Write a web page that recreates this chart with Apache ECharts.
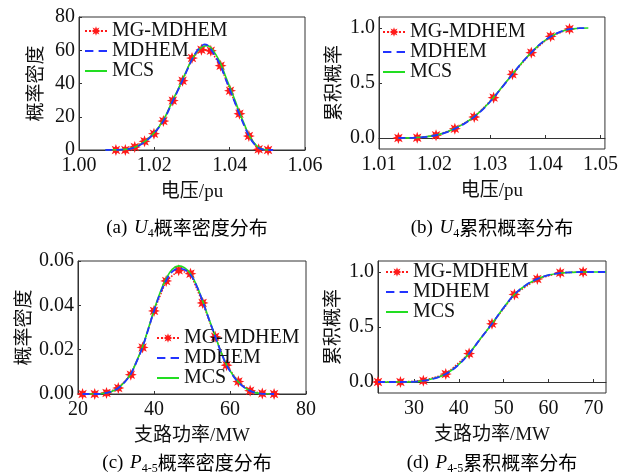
<!DOCTYPE html>
<html><head>
<meta charset="UTF-8">
<title>概率分布对比</title>
<style>
  body { margin: 0; background: #fff; }
  #chart { width: 621px; height: 475px; }
</style>
</head>
<body>
<div id="chart"></div>
<script src="https://cdn.jsdelivr.net/npm/echarts@6/dist/echarts.min.js"></script>
<script>
// (a) U4 概率密度
const aMarkX = [1.0098, 1.0123, 1.0148, 1.0174, 1.0199, 1.0224, 1.0249, 1.0275, 1.0300, 1.0325, 1.0350, 1.0376, 1.0401, 1.0426, 1.0451, 1.0477, 1.0502];
const aMarkY = [0, 0, 1.8, 5.2, 9.8, 17.4, 29.7, 41.7, 55.3, 60.3, 59.7, 50.7, 35.7, 21.8, 8.4, 0.4, 0];
const aLineX = [1.0070, 1.0098, 1.0123, 1.0148, 1.0174, 1.0199, 1.0224, 1.0249, 1.0262, 1.0275, 1.0288, 1.0300, 1.0313, 1.0325, 1.0333, 1.0341, 1.0350, 1.0363, 1.0376, 1.0388, 1.0401, 1.0414, 1.0426, 1.0439, 1.0451, 1.0464, 1.0477, 1.0490, 1.0502, 1.0515];
const aMdY  = [0, 0.05, 0.3, 1.5, 4.8, 10, 17.5, 29.5, 35.5, 42, 48.5, 54.5, 59.5, 62.5, 63.5, 63, 60.5, 56, 50.5, 43.5, 36, 28.5, 21.5, 14.5, 8.5, 4, 1.2, 0.2, 0, 0];
const aMcsY = [0, 0.05, 0.4, 1.7, 5, 10.2, 18, 30, 36, 42.5, 49, 54.5, 59, 61.8, 62.6, 62.8, 61.5, 57.5, 52, 45, 37.5, 30, 22.5, 15.5, 9, 4.5, 1.5, 0.3, 0, 0];
const aXTicks = [1.00, 1.02, 1.04, 1.06];
const aYTicks = [0, 20, 40, 60, 80];

// (b) U4 累积概率
const bMarkX = [1.0135, 1.0169, 1.0203, 1.0237, 1.0272, 1.0307, 1.0341, 1.0375, 1.0410, 1.0444];
const bMarkY = [0, 0.003, 0.024, 0.085, 0.191, 0.367, 0.579, 0.776, 0.924, 0.991];
const bLineX = [1.0135, 1.0152, 1.0169, 1.0186, 1.0203, 1.0220, 1.0237, 1.0255, 1.0272, 1.0290, 1.0307, 1.0324, 1.0341, 1.0358, 1.0375, 1.0392, 1.0410, 1.0427, 1.0444, 1.0461, 1.0478];
const bMdY  = [0, 0.001, 0.004, 0.011, 0.025, 0.048, 0.085, 0.133, 0.192, 0.272, 0.367, 0.472, 0.579, 0.685, 0.776, 0.858, 0.922, 0.965, 0.989, 0.998, 1.0];
const bMcsY = [0, 0.001, 0.004, 0.012, 0.026, 0.050, 0.087, 0.135, 0.195, 0.275, 0.370, 0.474, 0.580, 0.684, 0.777, 0.857, 0.921, 0.964, 0.988, 0.998, 1.0];
const bXTicks = [1.01, 1.02, 1.03, 1.04, 1.05];
const bYTicks = [0, 0.5, 1.0];

// (c) P4-5 概率密度
const cMarkX = [21.2, 24.4, 27.5, 30.6, 33.9, 37.0, 40.0, 43.2, 46.5, 49.6, 52.8, 56.1, 59.1, 62.2, 65.3, 68.5, 71.6];
const cMarkY = [0, 0, 0.0005, 0.0027, 0.0087, 0.0210, 0.0375, 0.0510, 0.0558, 0.0543, 0.0411, 0.0258, 0.0130, 0.0056, 0.0015, 0.0002, 0];
const cLineX = [21.2, 24.4, 26.0, 27.5, 29.0, 30.6, 32.2, 33.9, 35.4, 37.0, 38.5, 40.0, 41.6, 43.2, 44.8, 46.5, 48.0, 49.6, 51.2, 52.8, 54.4, 56.1, 57.6, 59.1, 60.7, 62.2, 63.8, 65.3, 66.9, 68.5, 71.6];
const cMdY  = [0, 0, 0.0001, 0.0005, 0.0012, 0.0027, 0.0052, 0.0090, 0.0145, 0.0212, 0.0292, 0.0375, 0.0452, 0.0512, 0.0552, 0.0566, 0.0561, 0.0538, 0.0488, 0.0418, 0.0340, 0.0260, 0.0190, 0.0130, 0.0085, 0.0053, 0.0029, 0.0014, 0.0005, 0.0001, 0];
const cMcsY = [0, 0, 0.0001, 0.0005, 0.0012, 0.0027, 0.0053, 0.0091, 0.0147, 0.0214, 0.0295, 0.0378, 0.0458, 0.0520, 0.0563, 0.0578, 0.0570, 0.0543, 0.0490, 0.0420, 0.0342, 0.0262, 0.0192, 0.0132, 0.0087, 0.0054, 0.0030, 0.0014, 0.0005, 0.0001, 0];
const cXTicks = [20, 40, 60, 80];
const cYTicks = [0, 0.02, 0.04, 0.06];

// (d) P4-5 累积概率
const dMarkX = [22.0, 27.0, 32.1, 37.1, 42.3, 47.4, 52.4, 57.5, 62.6, 67.7];
const dMarkY = [0, 0, 0.012, 0.072, 0.258, 0.529, 0.796, 0.937, 0.994, 1.0];
const dLineX = [22.0, 24.5, 27.0, 29.5, 32.1, 34.6, 37.1, 39.7, 42.3, 44.8, 47.4, 49.9, 52.4, 55.0, 57.5, 60.0, 62.6, 65.1, 67.7, 70.2, 72.8];
const dMdY  = [0, 0, 0, 0.002, 0.012, 0.033, 0.072, 0.148, 0.258, 0.392, 0.529, 0.670, 0.796, 0.882, 0.937, 0.972, 0.990, 0.997, 1.0, 1.0, 1.0];
const dMcsY = [0, 0, 0, 0.002, 0.012, 0.034, 0.073, 0.149, 0.259, 0.393, 0.530, 0.671, 0.796, 0.882, 0.937, 0.972, 0.990, 0.997, 1.0, 1.0, 1.0];
const dXTicks = [30, 40, 50, 60, 70];
const dYTicks = [0, 0.5, 1.0];

const RED = '#ff1a1a', BLUE = '#2233ff', GREEN = '#22dd22';
const SERIF = 'Liberation Serif';
const CJK = 'Liberation Serif, Noto Sans CJK SC';

// 8角星标记
function starPath() {
  let d = '';
  for (let i = 0; i < 16; i++) {
    const r = i % 2 ? 5 : 10;
    const a = Math.PI * i / 8 - Math.PI / 2;
    d += (i ? 'L' : 'M') + (10 + r * Math.cos(a)).toFixed(2) + ' ' + (10 + r * Math.sin(a)).toFixed(2);
  }
  return 'path://' + d + 'Z';
}
const STAR = starPath();

function zip(xs, ys) { return xs.map((x, i) => [x, ys[i]]); }

const grids = [
  { left: 79, top: 17, width: 226, height: 133 },
  { left: 379, top: 17, width: 226, height: 132 },
  { left: 78, top: 261, width: 228, height: 133 },
  { left: 378, top: 261, width: 228, height: 132 }
].map(g => Object.assign(g, { show: true, borderColor: '#333', borderWidth: 1, backgroundColor: 'transparent' }));

function xAxis(idx, min, max, ticks, digits, name) {
  return {
    type: 'value', gridIndex: idx, min: min, max: max,
    name: name, nameLocation: 'middle', nameGap: 33,
    nameTextStyle: { fontFamily: CJK, fontSize: 19, color: '#111' },
    axisLine: { show: true, lineStyle: { color: '#333' } },
    axisTick: { show: true, inside: true, length: 3, customValues: ticks, lineStyle: { color: '#333' } },
    axisLabel: { customValues: ticks, margin: 6, fontFamily: SERIF, fontSize: 20, color: '#111',
      formatter: v => v.toFixed(digits) },
    splitLine: { show: false }
  };
}
function yAxis(idx, min, max, ticks, digits, name, gap) {
  return {
    type: 'value', gridIndex: idx, min: min, max: max,
    name: name, nameLocation: 'middle', nameGap: gap,
    nameTextStyle: { fontFamily: CJK, fontSize: 19, color: '#111' },
    axisLine: { show: true, lineStyle: { color: '#333' } },
    axisTick: { show: true, inside: true, length: 3, customValues: ticks, lineStyle: { color: '#333' } },
    axisLabel: { customValues: ticks, margin: 4, fontFamily: SERIF, fontSize: 20, color: '#111',
      formatter: v => v.toFixed(digits) },
    splitLine: { show: false }
  };
}

function panelSeries(idx, markX, markY, lineX, mdY, mcsY) {
  return [
    { name: 'MG-MDHEM', type: 'line', xAxisIndex: idx, yAxisIndex: idx, data: zip(markX, markY),
      symbol: STAR, symbolSize: 12, itemStyle: { color: RED },
      lineStyle: { color: RED, width: 1.5, type: 'dotted' }, z: 2 },
    { name: 'MCS', type: 'line', xAxisIndex: idx, yAxisIndex: idx, data: zip(lineX, mcsY),
      symbol: 'none', smooth: 0.4, itemStyle: { color: GREEN },
      lineStyle: { color: GREEN, width: 1.6 }, z: 3 },
    { name: 'MDHEM', type: 'line', xAxisIndex: idx, yAxisIndex: idx, data: zip(lineX, mdY),
      symbol: 'none', smooth: 0.4, itemStyle: { color: BLUE },
      lineStyle: { color: BLUE, width: 1.8, type: [7, 4] }, z: 4 }
  ];
}

// 图例: 蓝色虚线和绿色实线用路径图标
function legend(left, top) {
  return {
    data: [
      { name: 'MG-MDHEM' },
      { name: 'MDHEM', icon: 'path://M0 0H8V2H0Z M13 0H21V2H13Z' },
      { name: 'MCS', icon: 'path://M0 0H22V2H0Z' }
    ],
    orient: 'vertical', left: left, top: top,
    itemWidth: 22, itemHeight: 12, itemGap: 0, padding: 0,
    textStyle: { fontFamily: SERIF, fontSize: 20, color: '#111' }
  };
}

const rich = {
  n: { fontFamily: SERIF, fontSize: 19, color: '#111', lineHeight: 24 },
  i: { fontFamily: SERIF, fontSize: 19, fontStyle: 'italic', color: '#111', lineHeight: 24 },
  s: { fontFamily: SERIF, fontSize: 12, color: '#111', lineHeight: 13, verticalAlign: 'bottom' },
  c: { fontFamily: 'Noto Sans CJK SC', fontSize: 19, color: '#111', lineHeight: 24 }
};
function caption(x, y, text) {
  return { type: 'text', x: x, y: y, style: { text: text, rich: rich, align: 'center', verticalAlign: 'middle' } };
}

const chart = echarts.init(document.getElementById('chart'));
chart.setOption({
  animation: false,
  backgroundColor: '#fff',
  grid: grids,
  xAxis: [
    xAxis(0, 1.00, 1.06, aXTicks, 2, '电压/pu'),
    xAxis(1, 1.01, 1.0508, bXTicks, 2, '电压/pu'),
    xAxis(2, 20, 80, cXTicks, 0, '支路功率/MW'),
    xAxis(3, 22, 72.8, dXTicks, 0, '支路功率/MW')
  ],
  yAxis: [
    yAxis(0, 0, 80, aYTicks, 0, '概率密度', 32),
    yAxis(1, -0.1, 1.1, bYTicks, 1, '累积概率', 34),
    yAxis(2, 0, 0.06, cYTicks, 2, '概率密度', 43),
    yAxis(3, -0.1, 1.1, dYTicks, 1, '累积概率', 34)
  ],
  legend: [legend(84, 21), legend(382, 22), legend(156, 328), legend(385, 262)],
  series: [].concat(
    panelSeries(0, aMarkX, aMarkY, aLineX, aMdY, aMcsY),
    panelSeries(1, bMarkX, bMarkY, bLineX, bMdY, bMcsY),
    panelSeries(2, cMarkX, cMarkY, cLineX, cMdY, cMcsY),
    panelSeries(3, dMarkX, dMarkY, dLineX, dMdY, dMcsY)
  ),
  graphic: [
    caption(187, 228, '{n|(a)}  {i|U}{s|4}{c|概率密度分布}'),
    caption(492, 228, '{n|(b)}  {i|U}{s|4}{c|累积概率分布}'),
    caption(187, 463, '{n|(c)}  {i|P}{s|4-5}{c|概率密度分布}'),
    caption(492, 463, '{n|(d)}  {i|P}{s|4-5}{c|累积概率分布}')
  ]
});
</script>
</body>
</html>
